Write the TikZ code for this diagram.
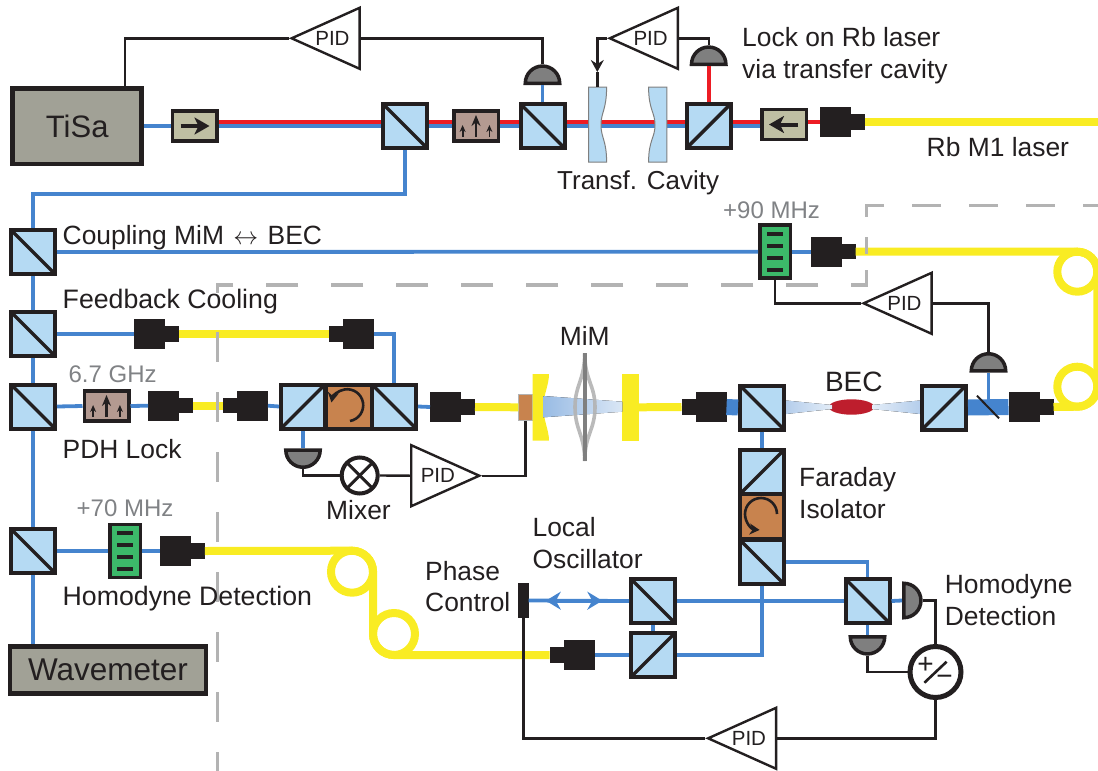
\documentclass[tikz,border=0pt]{standalone}
\usepackage{fontspec}
\setmainfont{Liberation Sans}
\usetikzlibrary{shapes.geometric, arrows.meta, positioning, calc}

\definecolor{ink}{HTML}{231F20}
\definecolor{cubeblue}{HTML}{B5DAF3}
\definecolor{beamblue}{HTML}{4584CE}
\definecolor{beamred}{HTML}{ED1C24}
\definecolor{fibreyellow}{HTML}{F9EC23}
\definecolor{boxgray}{HTML}{A1A196}
\definecolor{detgray}{HTML}{7F7F7F}
\definecolor{dashgray}{HTML}{B3B3B3}
\definecolor{freqgray}{HTML}{808285}
\definecolor{faradaybrown}{HTML}{C8834E}
\definecolor{eombrown}{HTML}{B49A91}
\definecolor{isoolive}{HTML}{BFBFA3}
\definecolor{aomgreen}{HTML}{3CB96A}
\definecolor{becred}{HTML}{BE1E2D}

\tikzset{
  cube/.style={draw=ink, fill=cubeblue, line width=4pt, minimum size=44pt, inner sep=0pt},
  cubedown/.style={cube, path picture={\draw[ink, line width=3.5pt] (path picture bounding box.north west) -- (path picture bounding box.south east);}},
  cubeup/.style={cube, path picture={\draw[ink, line width=3.5pt] (path picture bounding box.south west) -- (path picture bounding box.north east);}},
  faraday/.style={draw=ink, fill=faradaybrown, line width=4pt, minimum size=44pt, inner sep=0pt},
  labbox/.style={draw=ink, fill=boxgray, line width=4.5pt, inner sep=0pt, text=ink},
  isoarrow/.style={ink, line width=4pt, -{Stealth[length=15pt, width=17pt, inset=4pt]}},
  isobox/.style={draw=ink, fill=isoolive, line width=3.5pt, minimum width=44.5pt, minimum height=30pt, inner sep=0pt},
  isoright/.style={isobox, path picture={\draw[isoarrow] ([xshift=-14pt]path picture bounding box.center) -- ([xshift=15pt]path picture bounding box.center);}},
  isoleft/.style={isobox, path picture={\draw[isoarrow] ([xshift=14pt]path picture bounding box.center) -- ([xshift=-15pt]path picture bounding box.center);}},
  eomtip/.style={ink, line width=1.8pt, -{Stealth[length=7pt, width=6pt]}},
  eom/.style={draw=ink, fill=eombrown, line width=3.5pt, minimum width=44.5pt, minimum height=30pt, inner sep=0pt,
    path picture={
      \draw[ink, line width=2.6pt, -{Stealth[length=11pt, width=9pt]}] ([yshift=-11pt]path picture bounding box.center) -- ([yshift=11pt]path picture bounding box.center);
      \draw[eomtip] ([xshift=-13.4pt,yshift=-11pt]path picture bounding box.center) -- ([xshift=-13.4pt,yshift=1pt]path picture bounding box.center);
      \draw[eomtip] ([xshift=13.4pt,yshift=-11pt]path picture bounding box.center) -- ([xshift=13.4pt,yshift=1pt]path picture bounding box.center);
    }},
  aom/.style={draw=ink, fill=aomgreen, line width=3.5pt, minimum width=30.5pt, minimum height=53pt, inner sep=0pt,
    path picture={
      \draw[ink, line width=4pt] ([xshift=-8pt,yshift=18pt]path picture bounding box.center) -- ++(16pt,0pt);
      \draw[ink, line width=4pt] ([xshift=-8pt,yshift=6pt]path picture bounding box.center) -- ++(16pt,0pt);
      \draw[ink, line width=4pt] ([xshift=-8pt,yshift=-6pt]path picture bounding box.center) -- ++(16pt,0pt);
      \draw[ink, line width=4pt] ([xshift=-8pt,yshift=-18pt]path picture bounding box.center) -- ++(16pt,0pt);
    }},
  fibrebody/.style={fill=ink, minimum width=31pt, minimum height=30pt, inner sep=0pt, outer sep=0pt},
  fibrenose/.style={fill=ink, minimum width=14pt, minimum height=15.5pt, inner sep=0pt, outer sep=0pt},
  detector/.style={semicircle, draw=ink, fill=detgray, line width=3.5pt, minimum size=17.2pt, inner sep=0pt, anchor=chord center},
  pid/.style={isosceles triangle, isosceles triangle stretches, draw=ink, fill=white, line width=2.4pt, minimum width=61pt, minimum height=68pt, inner sep=0pt, text=ink, font=\fontsize{20.5}{24}\selectfont},
  beam/.style={beamblue, line width=3.8pt},
  redbeam/.style={beamred, line width=4pt},
  thickbeam/.style={beamblue, line width=16pt},
  fibre/.style={fibreyellow, line width=8pt},
  wire/.style={ink, line width=2.4pt},
  cavmirror/.style={draw=detgray, fill=cubeblue, line width=1pt},
  lens/.style={dashgray, line width=3.6pt, opacity=.9},
  dashbox/.style={dashgray, line width=3.6pt},
  lab/.style={anchor=base west, inner sep=0pt, text=ink, font=\fontsize{26.4}{30}\selectfont},
  freqlab/.style={anchor=base west, inner sep=0pt, text=freqgray, font=\fontsize{24}{28}\selectfont}
}

\newcommand{\fibreright}[2]{\node[fibrebody] (#1) at (#2) {}; \node[fibrenose, right=0pt of #1] (#1n) {};}
\newcommand{\fibreleft}[2]{\node[fibrebody] (#1) at (#2) {}; \node[fibrenose, left=0pt of #1] (#1n) {};}
\newcommand{\pidtext}{\makebox[34pt][l]{\hspace{-5pt}PID}}

\begin{document}
\begin{tikzpicture}[x=1pt, y=-1pt]
\useasboundingbox (0,0) rectangle (1098,771);

% laser table, top row
\node[labbox, minimum width=129pt, minimum height=75.5pt, font=\fontsize{31}{34}\selectfont] (tisa) at (77.2,126) {TiSa};
\node[isoright] (isoa) at (194.5,126) {};
\node[cubedown] (pbsa) at (405,126) {};
\node[eom] (eoma) at (476,126) {};
\node[cubedown] (pbsb) at (542.5,126) {};
\node[cubeup] (pbsc) at (708.7,126) {};
\node[isoleft] (isob) at (784,124.5) {};
\fibreright{cpa}{835.7,122}
\coordinate (rbend) at (1098,122);
\coordinate (cavtip) at (597.3,72);
\coordinate (cava) at (597.3,87);

% left column
\node[cubedown] (pbsd) at (33,252) {};
\node[cubedown] (pbse) at (33,334) {};
\node[cubedown] (pbsf) at (33,406.5) {};
\node[cubedown] (pbsg) at (33,551) {};
\node[labbox, minimum width=196pt, minimum height=47pt, font=\fontsize{31.5}{34}\selectfont] (wavem) at (108,669.8) {Wavemeter};

% coupling beam
\node[aom] (aoma) at (775,251.7) {};
\fibreright{cpb}{826,251.7}

% feedback and PDH rows
\fibreright{cpc}{149,334}
\fibreleft{cpd}{358,334}
\node[eom] (eomb) at (106.5,406) {};
\fibreright{cpe}{163.7,405.7}
\fibreleft{cpf}{252.4,405.7}
\node[cubeup] (pbsh) at (303,406.5) {};
\node[faraday, minimum width=46pt] (farada) at (348.5,406.5) {};
\node[cubedown] (pbsi) at (394,406.5) {};
\fibreright{cpg}{445.5,407}
\node[fill=faradaybrown, draw=dashgray, line width=.6pt, minimum width=14pt, minimum height=26.7pt, inner sep=0pt] (piezo) at (525.6,407.3) {};
\node[fill=fibreyellow, minimum width=16.7pt, minimum height=66.7pt, inner sep=0pt, outer sep=0pt] (mirb) at (630.6,407.3) {};

% BEC arm
\fibreleft{cph}{711,407}
\node[cubedown] (pbsj) at (762,407.5) {};
\node[fill=becred, ellipse, minimum width=45.4pt, minimum height=15.4pt, inner sep=0pt] (bec) at (851.5,407) {};
\node[cubeup] (pbsk) at (944,407.5) {};
\fibreright{cpi}{1024,407}

% homodyne part
\fibreright{cpj}{175.4,551}
\node[aom] (aomb) at (125,551) {};
\node[cubeup] (pbsl) at (762,472) {};
\node[faraday, minimum height=45pt] (faradb) at (762,516.8) {};
\node[cubedown] (pbsm) at (762,562) {};
\node[cubedown] (pbsn) at (653,601) {};
\node[cubeup] (pbso) at (653,655) {};
\node[cubedown] (pbsp) at (867.5,601) {};
\fibreleft{cpk}{579,655}
\node[fill=ink, minimum width=10.6pt, minimum height=35.6pt, inner sep=0pt, outer sep=0pt] (phasem) at (523.3,600.5) {};
\coordinate (arl) at (545.8,600.7);
\coordinate (arr) at (602.3,600.7);

% detectors
\node[detector] (deta) at (542.5,85) {};
\node[detector] (detb) at (708.7,66) {};
\node[detector] (detc) at (988.5,372.7) {};
\node[detector, shape border rotate=180] (detd) at (303,448.3) {};
\node[detector, shape border rotate=270] (dete) at (902,600.5) {};
\node[detector, shape border rotate=180] (detf) at (867.5,635) {};

% electronics
\node[pid, shape border rotate=180, anchor=apex] (pida) at (288.5,38.3) {\pidtext};
\node[pid, shape border rotate=180, anchor=apex] (pidb) at (606.7,38.3) {\pidtext};
\node[pid, shape border rotate=180, anchor=apex] (pidc) at (860.5,303.3) {\pidtext};
\node[pid, anchor=apex] (pidd) at (482.4,475.7) {\hspace{6pt}PID};
\node[pid, shape border rotate=180, anchor=apex] (pide) at (705,738.3) {\pidtext};
\node[circle, draw=ink, fill=white, line width=4pt, minimum size=36pt, inner sep=0pt,
  path picture={\draw[ink, line width=3pt] (path picture bounding box.north west) -- (path picture bounding box.south east);
    \draw[ink, line width=3pt] (path picture bounding box.south west) -- (path picture bounding box.north east);}] (mixer) at (359.7,475.5) {};
\node[circle, draw=ink, fill=white, line width=5pt, minimum size=51pt, inner sep=0pt] (diff) at (935.5,672) {};

% free space beams
\draw[beam] (tisa.east) -- (isoa.west);
\draw[beam] (isoa.east) -- (pbsa.west);
\draw[beam] (pbsa.east) -- (eoma.west);
\draw[beam] (eoma.east) -- (pbsb.west);
\draw[beam] (pbsb.east) -- (pbsc.west);
\draw[beam] (pbsc.east) -- ([yshift=-1.5pt]isob.west);
\draw[redbeam] ([yshift=4pt]isoa.east) -- ([yshift=4pt]pbsa.west);
\draw[redbeam] ([yshift=4pt]pbsa.east) -- ([yshift=4pt]eoma.west);
\draw[redbeam] ([yshift=4pt]eoma.east) -- ([yshift=4pt]pbsb.west);
\draw[redbeam] ([yshift=4pt]pbsb.east) -- ([yshift=4pt]pbsc.west);
\draw[redbeam] ([yshift=4pt]pbsc.east) -- ([yshift=2.5pt]isob.west);
\draw[redbeam] ([yshift=2.5pt]isob.east) -- (cpa.west);
\draw[redbeam] (pbsc.north) -- (detb.chord center);
\draw[beam] (pbsb.north) -- (deta.chord center);
\draw[beam] (pbsa.south) -- ++(0,44) -| (pbsd.north);
\draw[beam] (pbsd.south) -- (pbse.north);
\draw[beam] (pbse.south) -- (pbsf.north);
\draw[beam] (pbsf.south) -- (pbsg.north);
\draw[beam] (pbsg.south) -- (wavem.north -| pbsg);
\draw[beam] (pbsd.east) -- (aoma.west);
\draw[beam] (aoma.east) -- (cpb.west);
\draw[beam] (pbse.east) -- (cpc.west);
\draw[beam] (cpd.east) -| (pbsi.north);
\draw[beam] (pbsf.east) -- (eomb.west);
\draw[beam] (eomb.east) -- (cpe.west);
\draw[beam] (cpf.east) -- (pbsh.west);
\draw[beam] (pbsi.east) -- (cpg.west);
\draw[beam] (pbsh.south) -- (detd.chord center);
\draw[thickbeam] (cph.east) -- (pbsj.west);
\draw[thickbeam] (pbsk.east) -- (cpi.west);
\draw[beam] (detc.chord center) -- (988.5,407);
\draw[ink, line width=2pt] (977,395.7) -- (999,418.3);
\draw[beam] (pbsj.south) -- (pbsl.north);
\draw[beam] (pbsm.east) -| (pbsp.north);
\draw[beam] (pbsm.south) |- (pbso.east);
\draw[beam] (pbsn.south) -- (pbso.north);
\draw[beam] (cpk.east) -- (pbso.west);
\draw[beam] (pbsn.east) -- (pbsp.west);
\draw[beam] (phasem.east) -- (pbsn.west);
\draw[beam, {Stealth[length=15pt, width=18pt, inset=5pt]}-{Stealth[length=15pt, width=18pt, inset=5pt]}] (arl) -- (arr);
\draw[beam] (pbsp.east) -- (dete.chord center);
\draw[beam] (pbsp.south) -- (detf.chord center);
\draw[beam] (pbsg.east) -- (aomb.west);
\draw[beam] (aomb.east) -- (cpj.west);

% cavity mirrors
\draw[cavmirror] (588.5,87) -- (606.6,87) .. controls (606.6,110) and (601,112) .. (601,125) .. controls (601,138) and (606.6,140) .. (606.6,162) -- (588.5,162) -- cycle;
\draw[cavmirror] (648.6,87) -- (666.8,87) -- (666.8,162) -- (648.6,162) .. controls (648.6,140) and (655,138) .. (655,125) .. controls (655,112) and (648.6,110) .. (648.6,87) -- cycle;

% optical fibres
\draw[fibre] (cpan.east) -- (rbend);
\draw[fibre] (cpbn.east) -- (1077.3,251.7) arc (270:360:20) -- (1097.3,386.7) arc (0:90:20) -- (cpin.east);
\draw[fibre] (1077.3,271.7) circle (20);
\draw[fibre] (1077.3,386.7) circle (20);
\draw[fibre] (cpcn.east) -- (cpdn.west);
\draw[fibre] (cpen.east) -- (cpfn.west);
\draw[fibre] (cpgn.east) -- (piezo.west);
\draw[fibre] (mirb.east) -- (cphn.west);
\draw[fibre] (cpjn.east) -- (352,550.7) arc (270:360:21) -- (373,634) arc (180:90:21) -- (cpkn.west);
\draw[fibre] (352,571.7) circle (21);
\draw[fibre] (394,634) circle (21);

% cavity with membrane
\fill[fibreyellow] (532.7,374) -- (549,374) .. controls (549,385) and (543.3,395) .. (543.3,407.3) .. controls (543.3,420) and (549,430) .. (549,440.7) -- (532.7,440.7) -- cycle;
\fill[left color=beamblue!55, right color=beamblue!20] (543.3,396) -- (622.3,401.7) -- (622.3,411.7) -- (543.3,417.3) -- cycle;
\draw[lens] (584.7,353.3) .. controls (584.7,380) and (575,385) .. (575,407) .. controls (575,430) and (584.7,435) .. (584.7,461);
\draw[lens] (584.7,353.3) .. controls (584.7,380) and (595,385) .. (595,407) .. controls (595,430) and (584.7,435) .. (584.7,461);
\draw[detgray, line width=4pt] (584.7,353.3) -- (584.7,461);
\fill[left color=beamblue!40, right color=beamblue!15] (pbsj.east |- 0,400.5) -- (832,405) -- (832,409) -- (pbsj.east |- 0,414) -- cycle;
\fill[left color=beamblue!15, right color=beamblue!40] (872,405) -- (pbsk.west |- 0,400.5) -- (pbsk.west |- 0,414) -- (872,409) -- cycle;

% wiring
\draw[wire] ([xshift=48pt]tisa.north) |- (pida.apex);
\draw[wire] (pida.lower side) -| (deta.apex);
\draw[wire, -{Stealth[length=12pt, width=13pt, inset=4pt]}] (pidb.apex) -| (cavtip);
\draw[wire] (cavtip) -- (cava);
\draw[wire] (pidb.lower side) -| (detb.apex);
\draw[wire] (pidc.apex) -| (aoma.south);
\draw[wire] (pidc.lower side) -| (detc.apex);
\draw[wire] (detd.apex) |- (mixer.west);
\draw[wire] (mixer.east) -- (pidd.lower side);
\draw[wire] (pidd.apex) -| (piezo.south);
\draw[wire] (phasem.south) |- (pide.apex);
\draw[wire] (pide.lower side) -| (diff.south);
\draw[wire] (dete.apex) -| (diff.north);
\draw[wire] (detf.apex) |- (diff.west);

% isolator rotation arrows
\draw[ink, line width=2.6pt, -{Stealth[length=10pt, width=11pt]}] (350,421) arc (80:-170:16);
\draw[ink, line width=2.6pt, -{Stealth[length=10pt, width=11pt]}] (777,514) arc (0:-265:16);

% sum and difference
\draw[ink, line width=2.6pt] (924.4,682.7) -- (946.6,661.7);
\node[text=ink, inner sep=0pt, font=\fontsize{28}{30}\selectfont] (diffplus) at (925.6,665.5) {+};
\node[text=ink, inner sep=0pt, font=\fontsize{28}{30}\selectfont] (diffminus) at (944.6,680) {−};

% science chamber outline
\draw[dashbox, dash pattern=on 29pt off 28pt, dash phase=14pt] (1098,205.3) -- (866.4,205.3) -- (866.4,220);
\draw[dashbox] (866.4,237) -- (866.4,254);
\draw[dashbox, dash pattern=on 32pt off 33pt, dash phase=2pt] (866.4,270) -- (866.4,285) -- (217.5,285) -- (217.5,293);
\draw[dashbox, dash pattern=on 30pt off 30pt] (217.5,332) -- (217.5,771);

% labels
\node[lab] (lockt) at (742,46.7) {Lock on Rb laser};
\node[lab] (lockb) at (742,78.3) {via transfer cavity};
\node[lab, font=\fontsize{26}{30}\selectfont] (transf) at (557,189.3) {Transf. Cavity};
\node[lab] (rbm) at (926.5,156) {Rb M1 laser};
\node[lab] (couplab) at (62.5,244) {Coupling MiM\hspace{2pt} $\leftrightarrow$\hspace{2pt} BEC};
\node[lab, font=\fontsize{26.7}{30}\selectfont] (feedlab) at (62.5,308.3) {Feedback Cooling};
\node[lab] (pdhlab) at (62.5,458.3) {PDH Lock};
\node[lab, font=\fontsize{26.7}{30}\selectfont] (homolab) at (62.5,605) {Homodyne Detection};
\node[lab, anchor=base] (mixlab) at (358.5,519) {Mixer};
\node[lab] (phaset) at (425,580) {Phase};
\node[lab] (phaseb) at (425,611.7) {Control};
\node[lab] (localt) at (532.4,536.7) {Local};
\node[lab] (localb) at (532.4,568) {Oscillator};
\node[lab] (faradt) at (799,486.7) {Faraday};
\node[lab] (faradb2) at (799,518) {Isolator};
\node[lab] (homot) at (944.6,593) {Homodyne};
\node[lab] (homob) at (944.6,625) {Detection};
\node[lab, anchor=base] (mimlab) at (584.7,345) {MiM};
\node[lab, anchor=base, font=\fontsize{28}{32}\selectfont] (beclab) at (853.8,391.7) {BEC};
\node[freqlab] (ghz) at (68.4,382.7) {6.7 GHz};
\node[freqlab] (mhza) at (76.5,516.6) {+70 MHz};
\node[freqlab] (mhzb) at (723,218.3) {+90 MHz};
\end{tikzpicture}
\end{document}
